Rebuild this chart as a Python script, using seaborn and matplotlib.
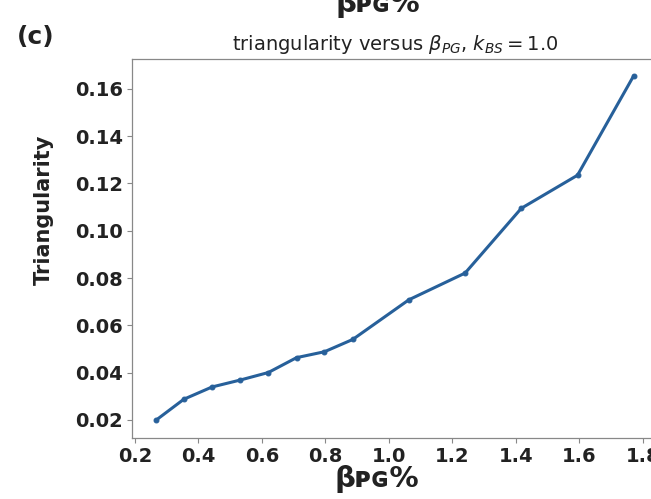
import matplotlib
matplotlib.use("Agg")
import matplotlib.pyplot as plt
import seaborn as sns
import pandas as pd

beta_pg = [0.266, 0.354, 0.443, 0.531, 0.620, 0.709, 0.797, 0.886,
           1.063, 1.240, 1.417, 1.594, 1.771]
triangularity = [0.0198, 0.0287, 0.0339, 0.0368, 0.0400, 0.0463, 0.0488,
                 0.0540, 0.0708, 0.0821, 0.1095, 0.1235, 0.1656]
xticks = [0.2, 0.4, 0.6, 0.8, 1.0, 1.2, 1.4, 1.6, 1.8]
yticks = [0.02, 0.04, 0.06, 0.08, 0.10, 0.12, 0.14, 0.16]

sns.set_style("white")
plt.rcParams['font.family'] = ['DejaVu Sans']

df = pd.DataFrame({"beta": beta_pg, "tri": triangularity})

fig = plt.figure(figsize=(6.51, 4.99), dpi=100)
ax = fig.add_axes([132 / 651, 1 - 437.5 / 499, 525.6 / 651, 379 / 499])
sns.lineplot(data=df, x="beta", y="tri", ax=ax, color="#27609a",
             linewidth=2.2, marker="o", markersize=3.5,
             markeredgecolor="#27609a")

ax.set_xticks(xticks)
ax.set_yticks(yticks)
ax.set_xticklabels([f"{v:.1f}" for v in xticks])
ax.set_yticklabels([f"{v:.2f}" for v in yticks])
ax.tick_params(axis="both", which="both", direction="out", length=3.5,
               width=0.8, color="#888888", labelsize=14, pad=3,
               bottom=True, left=True)
for lab in ax.get_xticklabels() + ax.get_yticklabels():
    lab.set_fontweight("bold")
    lab.set_color("#222222")
for name, sp in ax.spines.items():
    sp.set_color("#888888")
    sp.set_linewidth(0.9)
ax.spines["right"].set_visible(False)

ax.set_xlabel("β\u1d18\u0262%", fontsize=21, fontweight="bold", color="#222222")
ax.xaxis.set_label_coords(0.466, -0.072)
ax.set_ylabel("Triangularity", fontsize=15, fontweight="bold", color="#222222")
ax.yaxis.set_label_coords(-0.148, 0.60)
ax.set_title(r"triangularity versus $\beta_{PG}$, $k_{BS} = 1.0$",
             fontsize=14, x=0.5, pad=6, color="#222222")

fig.text(17 / 651, 1 - 37 / 499, "(c)", fontsize=18, fontweight="bold",
         ha="left", va="center", color="#222222")
fig.text(378 / 651, 1 - 12 / 499, "β\u1d18\u0262%", fontsize=21,
         fontweight="bold", ha="center", va="baseline", color="#222222")

fig.savefig("out.png", dpi=100)
